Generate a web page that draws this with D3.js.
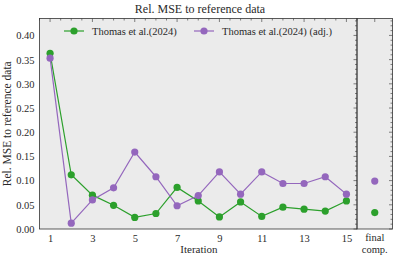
<!DOCTYPE html>
<html lang="en">
<head>
<meta charset="UTF-8">
<title>Rel. MSE to reference data</title>
<script src="https://d3js.org/d3.v7.min.js"></script>
<style>
  body { margin: 0; background: #fff; }
  text { font-family: "Liberation Serif", "DejaVu Serif", serif; fill: #2a2a2a; }
</style>
</head>
<body>
<div id="chart"></div>
<script>
// data
var iterations = [1, 2, 3, 4, 5, 6, 7, 8, 9, 10, 11, 12, 13, 14, 15];
var thomas    = [0.363, 0.112, 0.070, 0.049, 0.024, 0.032, 0.086, 0.058, 0.025, 0.056, 0.026, 0.045, 0.041, 0.037, 0.058];
var thomasAdj = [0.353, 0.012, 0.060, 0.085, 0.159, 0.108, 0.048, 0.069, 0.118, 0.072, 0.118, 0.094, 0.094, 0.108, 0.072];
var finalThomas = 0.034;
var finalThomasAdj = 0.099;
var xTicks = [1, 3, 5, 7, 9, 11, 13, 15];
var yTicks = [0, 0.05, 0.10, 0.15, 0.20, 0.25, 0.30, 0.35, 0.40];
var seriesNames = ["Thomas et al.(2024)", "Thomas et al.(2024) (adj.)"];
var colors = ["#2ca02c", "#9467bd"];

var W = 397, H = 259;
var pLeft = 39.5, pTop = 18.5, pBottom = 229, mainRight = 357, panelRight = 392.5;

var svg = d3.select("#chart").append("svg")
    .attr("width", W).attr("height", H);

var x = d3.scaleLinear().domain([0.5, 15.5]).range([pLeft, mainRight]);
var xf = d3.scaleLinear().domain([-0.5, 0.5]).range([mainRight, panelRight]);
var y = d3.scaleLinear().domain([0, 0.435]).range([pBottom, pTop]);

// backgrounds
svg.append("rect").attr("x", pLeft).attr("y", pTop)
    .attr("width", mainRight - pLeft).attr("height", pBottom - pTop)
    .attr("fill", "#ebebeb");
svg.append("rect").attr("x", mainRight).attr("y", pTop)
    .attr("width", panelRight - mainRight).attr("height", pBottom - pTop)
    .attr("fill", "#ebebeb");

// ticks inside: top and right only
var tickG = svg.append("g").attr("stroke", "#333").attr("stroke-width", 0.6);
d3.range(0.5, 15.51, 0.5).forEach(function(v) {
    var major = xTicks.indexOf(v) >= 0;
    tickG.append("line").attr("x1", x(v)).attr("x2", x(v))
        .attr("y1", pTop).attr("y2", pTop + (major ? 3.5 : 2));
});
tickG.append("line").attr("x1", xf(0)).attr("x2", xf(0))
    .attr("y1", pTop).attr("y2", pTop + 3.5);
d3.range(0, 44).forEach(function(i) {
    var v = i / 100;
    var major = i % 5 === 0;
    var len = major ? 3.5 : 2;
    tickG.append("line").attr("x1", mainRight).attr("x2", mainRight - len)
        .attr("y1", y(v)).attr("y2", y(v));
    tickG.append("line").attr("x1", panelRight).attr("x2", panelRight - len)
        .attr("y1", y(v)).attr("y2", y(v));
});

// frames
svg.append("rect").attr("x", pLeft).attr("y", pTop)
    .attr("width", mainRight - pLeft).attr("height", pBottom - pTop)
    .attr("fill", "none").attr("stroke", "#333").attr("stroke-width", 0.8);
svg.append("rect").attr("x", mainRight).attr("y", pTop)
    .attr("width", panelRight - mainRight).attr("height", pBottom - pTop)
    .attr("fill", "none").attr("stroke", "#333").attr("stroke-width", 0.8);

// axes labels
var xAxis = svg.append("g").attr("transform", "translate(0," + pBottom + ")")
    .call(d3.axisBottom(x).tickValues(xTicks).tickSize(0).tickPadding(6).tickFormat(d3.format("d")));
var yAxis = svg.append("g").attr("transform", "translate(" + pLeft + ",0)")
    .call(d3.axisLeft(y).tickValues(yTicks).tickSize(0).tickPadding(5).tickFormat(d3.format(".2f")));
[xAxis, yAxis].forEach(function(a) {
    a.select(".domain").remove();
    a.selectAll("text").attr("font-family", "Liberation Serif").attr("font-size", 10.5).attr("fill", "#2a2a2a");
});

svg.append("text").attr("x", xf(0)).attr("y", 241).attr("text-anchor", "middle")
    .attr("font-size", 10.5).text("final");
svg.append("text").attr("x", xf(0)).attr("y", 253).attr("text-anchor", "middle")
    .attr("font-size", 10.5).text("comp.");

svg.append("text").attr("x", 199).attr("y", 253)
    .attr("text-anchor", "middle").attr("font-size", 11).text("Iteration");
svg.append("text").attr("transform", "translate(11," + (pTop + pBottom) / 2 + ") rotate(-90)")
    .attr("text-anchor", "middle").attr("font-size", 11.5).text("Rel. MSE to reference data");
svg.append("text").attr("x", 200).attr("y", 13)
    .attr("text-anchor", "middle").attr("font-size", 12).text("Rel. MSE to reference data");

// series
var line = d3.line().x(function(d) { return x(d[0]); }).y(function(d) { return y(d[1]); });
[thomas, thomasAdj].forEach(function(vals, i) {
    var pts = iterations.map(function(it, j) { return [it, vals[j]]; });
    svg.append("path").datum(pts).attr("d", line)
        .attr("fill", "none").attr("stroke", colors[i]).attr("stroke-width", 1.2);
    svg.selectAll(null).data(pts).enter().append("circle")
        .attr("cx", function(d) { return x(d[0]); })
        .attr("cy", function(d) { return y(d[1]); })
        .attr("r", 3.6).attr("fill", colors[i]);
});
[finalThomas, finalThomasAdj].forEach(function(v, i) {
    svg.append("circle").attr("cx", xf(0)).attr("cy", y(v)).attr("r", 3.6).attr("fill", colors[i]);
});

// legend
var legendX = [64, 194];
seriesNames.forEach(function(name, i) {
    var g = svg.append("g").attr("transform", "translate(" + legendX[i] + ",31)");
    g.append("line").attr("x1", 0).attr("x2", 20).attr("stroke", colors[i]).attr("stroke-width", 1.2);
    g.append("circle").attr("cx", 10).attr("r", 3.6).attr("fill", colors[i]);
    g.append("text").attr("x", 28).attr("y", 3.5).attr("font-size", 10.5).text(name);
});
</script>
</body>
</html>
